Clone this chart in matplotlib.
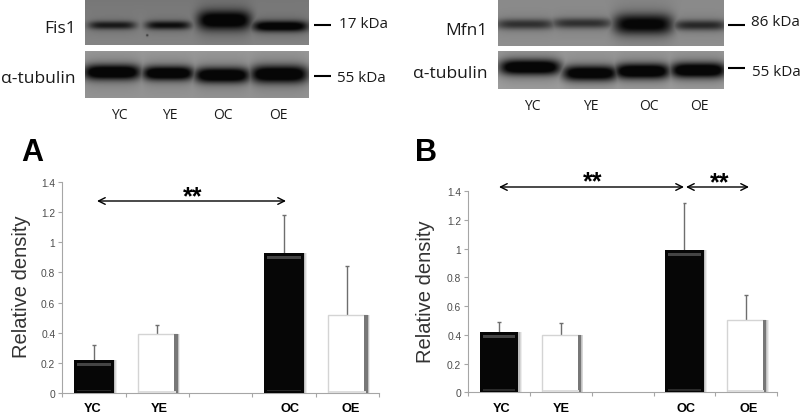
#!/usr/bin/python

import matplotlib
matplotlib.use('Agg')
import matplotlib.pyplot as plt
import numpy as np

W, H = 803, 414

groups = ['YC', 'YE', 'OC', 'OE']
bar_pos = [0, 1, 3, 4]
yticks = [0, 0.2, 0.4, 0.6, 0.8, 1, 1.2, 1.4]
ytick_labels = ['0', '0.2', '0.4', '0.6', '0.8', '1', '1.2', '1.4']

a_means = [0.22, 0.39, 0.93, 0.52]
a_tops = [0.32, 0.45, 1.18, 0.84]
b_means = [0.42, 0.40, 0.99, 0.50]
b_tops = [0.49, 0.48, 1.32, 0.68]

# blot bands: x centre, half width, y centre, half height, strength (pixels)
fis1_bands = [(112, 24, 26, 4.0, 0.68), (168, 23, 26, 4.2, 0.76),
              (224, 27, 21, 9.5, 1.0), (280, 28, 27, 5.2, 1.0),
              (147, 1.2, 36, 1.0, 0.5)]
tub_a_bands = [(112, 29, 73, 7.5, 1.05), (168, 26, 74, 7, 1.05),
               (222, 28, 76, 7.5, 1.05), (279, 29, 75, 8.5, 1.05)]
mfn1_bands = [(525, 30, 25, 5.0, 0.55), (582, 31, 24, 5.0, 0.55),
              (643, 30, 25, 10, 0.88), (700, 27, 26, 5.0, 0.6)]
tub_b_bands = [(530, 31, 68, 7.5, 1.05), (590, 28, 74, 7.5, 1.0),
               (642, 28, 72, 7.5, 1.05), (698, 28, 71, 7.5, 1.05)]


def blot(ax, x0, x1, y0, y1, bands, base_top, base_bottom):
    xs, ys = np.meshgrid(np.arange(x0, x1, 0.5), np.arange(y0, y1, 0.5))
    grey = base_top + (base_bottom - base_top) * (ys - y0) / (y1 - y0)
    dark = np.zeros_like(grey)
    for xc, hw, yc, hh, s in bands:
        across = np.exp(-np.abs((xs - xc) / hw) ** 5)
        core = across * np.exp(-np.abs((ys - yc) / hh) ** 2.2)
        halo = across * np.exp(-((ys - yc) / (hh * 2.0)) ** 2)
        dark = np.maximum(dark, s * core + 0.2 * s * halo)
    grey = grey * (1 - np.clip(dark, 0, 0.95))
    ax.imshow(grey, extent=(x0, x1, y1, y0), cmap='gray', vmin=0, vmax=1,
              aspect='auto', interpolation='bilinear', zorder=1)


def panel(box, means, tops, bar_width):
    left, right, y_zero, y_top = box
    ax = fig.add_axes([left / W, 1 - y_zero / H, (right - left) / W, (y_zero - y_top) / H])
    ax.patch.set_alpha(0)
    ax.set_xlim(-0.5, 4.5)
    ax.set_ylim(0, 1.4)
    pos = np.array(bar_pos, dtype=float)
    vals = np.array(means)

    # errorbar goes first so the bar sits over its lower half
    ax.vlines(pos, vals, tops, color='#6e6e6e', linewidth=1.0, zorder=2)
    ax.hlines(tops, pos - 0.03, pos + 0.03, color='#6e6e6e', linewidth=1.0, zorder=2)

    # soft shadow on the right edge
    for off, alpha in [(0.055, 0.10), (0.04, 0.14), (0.025, 0.2)]:
        ax.bar(pos + off, vals, bar_width, color='#555555', alpha=alpha, zorder=3, linewidth=0)

    ax.bar(pos[[0, 2]], vals[[0, 2]], bar_width, color='#060606', zorder=4, linewidth=0)
    ax.bar(pos[[0, 2]], [0.018, 0.018], bar_width * 0.85, bottom=vals[[0, 2]] - 0.04,
           color='#444444', zorder=5, linewidth=0)
    ax.bar(pos[[0, 2]], [0.012, 0.012], bar_width * 0.85, bottom=0.012,
           color='#2a2a2a', zorder=5, linewidth=0)
    ax.bar(pos[[1, 3]], vals[[1, 3]], bar_width, facecolor='white', edgecolor='#d4d4d4',
           linewidth=1.0, zorder=4)
    ax.bar(pos[[1, 3]] + bar_width / 2 - 0.015, vals[[1, 3]], 0.05, color='#777777', zorder=5, linewidth=0)
    ax.bar(pos[[1, 3]], [0.015, 0.015], bar_width * 0.95, color='#dddddd', zorder=5, linewidth=0)

    for side in ['top', 'right']:
        ax.spines[side].set_visible(False)
    for side in ['left', 'bottom']:
        ax.spines[side].set_color('#a6a6a6')
        ax.spines[side].set_linewidth(0.8)
    ax.set_xticks(np.arange(-0.5, 5.0, 1.0))
    ax.set_xticklabels([])
    ax.set_yticks(yticks)
    ax.set_yticklabels(ytick_labels, fontsize=7.4, color='#4d4d4d', family='Liberation Sans')
    ax.tick_params(axis='both', color='#a6a6a6', length=3, width=0.8, pad=2)
    return ax


fig = plt.figure(figsize=(W / 100, H / 100), dpi=100, facecolor='white')

# overlay in image pixels for the blots and all the loose labels
pix = fig.add_axes([0, 0, 1, 1])
pix.set_xlim(0, W)
pix.set_ylim(H, 0)
pix.axis('off')

blot(pix, 85, 309, 1, 46, fis1_bands, 0.47, 0.52)
blot(pix, 85, 309, 52, 99, tub_a_bands, 0.60, 0.58)
blot(pix, 498, 724, 1, 47, mfn1_bands, 0.54, 0.56)
blot(pix, 498, 724, 52, 90, tub_b_bands, 0.60, 0.62)
pix.set_xlim(0, W)
pix.set_ylim(H, 0)

panel((62.3, 379, 394.3, 182.7), a_means, a_tops, 0.62)
panel((468.3, 777, 393.3, 192), b_means, b_tops, 0.62)


def blot_text(x, y, s, ha='center', size=12):
    pix.text(x, y, s, ha=ha, va='center', fontsize=size, family='Open Sans', color='#1a1a1a')


blot_text(76, 29, 'Fis1', 'right', 12.5)
blot_text(76, 79, 'α-tubulin', 'right', 12.5)
blot_text(488, 31, 'Mfn1', 'right', 12.5)
blot_text(488, 74, 'α-tubulin', 'right', 12.5)
blot_text(339, 25, '17 kDa', 'left', 11)
blot_text(337, 79, '55 kDa', 'left', 11)
blot_text(751, 23, '86 kDa', 'left', 11)
blot_text(752, 72, '55 kDa', 'left', 11)
for x0, x1, y in [(314, 331, 26), (314, 331, 77), (728, 745, 26), (728, 745, 69)]:
    pix.plot([x0, x1], [y, y], color='black', linewidth=1.5, solid_capstyle='butt')

for name, x in zip(groups, [119, 170, 223, 278]):
    blot_text(x, 116, name, size=10)
for name, x in zip(groups, [532, 591, 649, 699]):
    blot_text(x, 107, name, size=10)

for name, x in zip(groups, [93, 159, 290, 351]):
    pix.text(x, 409, name, ha='center', va='center', fontsize=9.2, weight='bold', family='Liberation Sans')
for name, x in zip(groups, [502, 561, 686, 749]):
    pix.text(x, 409, name, ha='center', va='center', fontsize=9.2, weight='bold', family='Liberation Sans')

pix.text(32, 153, 'A', ha='center', va='center', fontsize=22, weight='bold', family='Liberation Sans')
pix.text(426, 153, 'B', ha='center', va='center', fontsize=22, weight='bold', family='Liberation Sans')

pix.text(22, 287, 'Relative density', rotation=90, ha='center', va='center',
         fontsize=14.5, color='#333333', family='Liberation Sans')
pix.text(426, 292, 'Relative density', rotation=90, ha='center', va='center',
         fontsize=14.5, color='#333333', family='Liberation Sans')

for x0, x1, y in [(97, 286, 202), (499, 684, 188), (686, 749, 188)]:
    pix.annotate('', xy=(x1, y), xytext=(x0, y),
                 arrowprops=dict(arrowstyle='<->', color='black', linewidth=1.0,
                                 shrinkA=0, shrinkB=0, mutation_scale=12))
for x, y in [(193, 197), (593, 182), (720, 183)]:
    pix.text(x, y, '**', ha='center', va='center', fontsize=18, weight='bold', family='Liberation Sans')

fig.savefig('out.png', dpi=100)
